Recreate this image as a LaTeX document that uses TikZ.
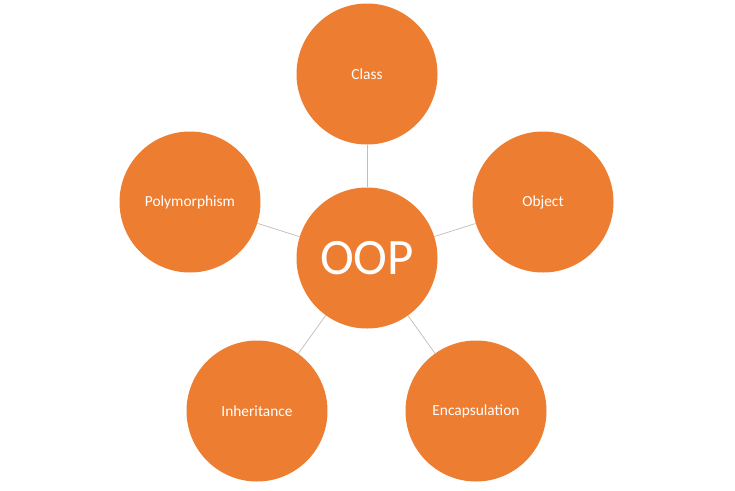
\documentclass[tikz,border=0pt]{standalone}
\usepackage{fontspec}
\setmainfont{Carlito}
\definecolor{oopor}{HTML}{ED7D31}
\definecolor{linkgr}{HTML}{C4BCB6}
\begin{document}
\begin{tikzpicture}[x=1pt,y=-1pt,
  bubble/.style={circle,fill=oopor,draw=none,minimum size=141pt,inner sep=0pt,text=white,font=\fontsize{15.4}{17}\selectfont},
  link/.style={draw=linkgr,line width=0.7pt}]
\useasboundingbox[fill=white] (0,0) rectangle (735,490);
\node[bubble,font=\fontsize{51}{54}\selectfont] (oop) at (367,258) {OOP};
\node[bubble] (class) at (367,74) {Class};
\node[bubble] (poly) at (190,202) {Polymorphism};
\node[bubble] (obj) at (543,202) {Object};
\node[bubble] (inh) at (257,411) {Inheritance};
\node[bubble] (enc) at (476,411) {Encapsulation};
\foreach \n in {class,poly,obj,inh,enc}{\draw[link] (oop) -- (\n);}
\end{tikzpicture}
\end{document}
